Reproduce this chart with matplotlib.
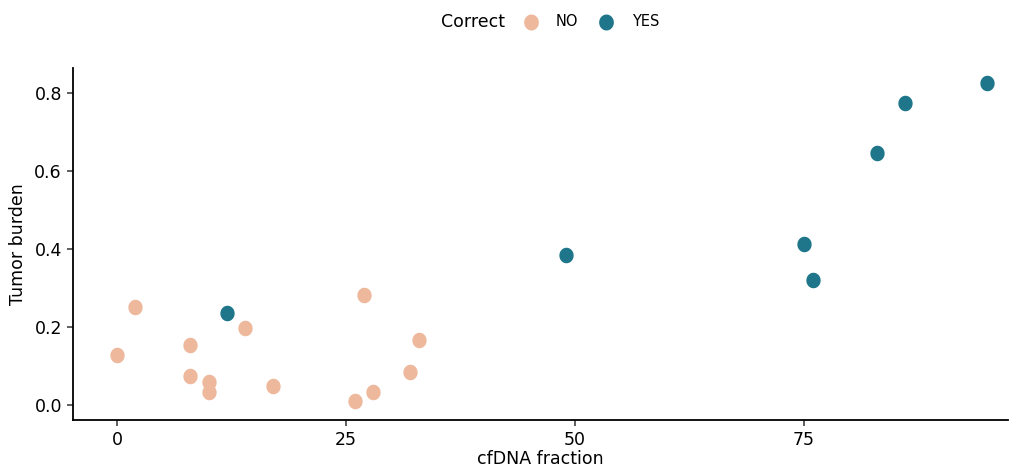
import matplotlib
matplotlib.use("Agg")
import matplotlib.pyplot as plt
import numpy as np
from matplotlib.path import Path
from matplotlib.markers import MarkerStyle
from matplotlib.lines import Line2D

plt.rcParams['font.family'] = ['DejaVu Sans']

no_x = [0, 2, 8, 8, 10, 10, 14, 17, 26, 27, 28, 32, 33]
no_y = [0.128, 0.251, 0.154, 0.074, 0.059, 0.033, 0.197, 0.049, 0.010, 0.282, 0.033, 0.085, 0.167]
yes_x = [12, 49, 75, 76, 83, 86, 95]
yes_y = [0.236, 0.385, 0.413, 0.321, 0.646, 0.774, 0.826]

x_ticks = [0, 25, 50, 75]
y_ticks = [0.0, 0.2, 0.4, 0.6, 0.8]
y_ticklabels = ["0.0", "0.2", "0.4", "0.6", "0.8"]
legend_labels = ["NO", "YES"]

col_no = "#EEB89C"
col_yes = "#1F768A"

# slightly tall ellipse marker
t = np.linspace(0, 2*np.pi, 60)
ell = Path(np.column_stack([0.92*np.cos(t), np.sin(t)]), closed=True)
mk = MarkerStyle(ell)

fig = plt.figure(figsize=(10.17, 4.67), dpi=100)
ax = fig.add_axes([73/1017, 47/467, (1008-73)/1017, (420-68)/467])

ax.scatter(no_x, no_y, s=125, marker=mk, color=col_no, linewidths=0, zorder=3)
ax.scatter(yes_x, yes_y, s=125, marker=mk, color=col_yes, linewidths=0, zorder=3)

ax.set_xlim(-4.8, 97.3)
ax.set_ylim(-0.0385, 0.864)
ax.set_xticks(x_ticks)
ax.set_xticklabels([str(v) for v in x_ticks])
ax.set_yticks(y_ticks)
ax.set_yticklabels(y_ticklabels)
for s in ['top', 'right']:
    ax.spines[s].set_visible(False)
for s in ['left', 'bottom']:
    ax.spines[s].set_linewidth(1.3)
    ax.spines[s].set_color('black')
ax.tick_params(axis='both', length=4, width=1.1, colors='#333333', labelsize=12.5, labelcolor='black', pad=4)
ax.set_xlabel("cfDNA fraction", fontsize=12.5, labelpad=1)
ax.set_ylabel("Tumor burden", fontsize=12.5, labelpad=5)

# legend at top (manual placement)
ly = 1 - 22/467
fig.text(505/1017, ly, "Correct", fontsize=12.5, ha='right', va='center')
for xm, xt, c, lab in [(531, 556, col_no, legend_labels[0]), (606, 632, col_yes, legend_labels[1])]:
    fig.add_artist(Line2D([xm/1017], [ly], marker=mk, linestyle='none', markersize=11.5,
                          color=c, markeredgewidth=0, transform=fig.transFigure))
    fig.text(xt/1017, ly, lab, fontsize=10.5, ha='left', va='center')

fig.savefig("out.png", dpi=100)
